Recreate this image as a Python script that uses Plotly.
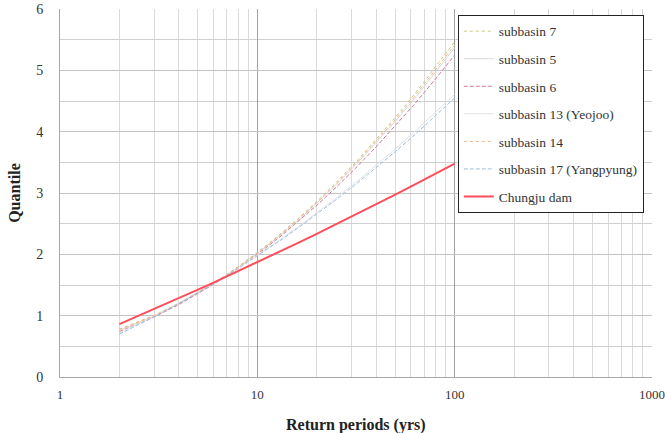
import plotly.graph_objects as go

return_periods = [2, 3, 4, 5, 6, 8, 10, 13, 16, 20, 25, 32, 40, 50, 63, 80, 100]

sub7 = [0.780, 1.005, 1.202, 1.376, 1.530, 1.800, 2.030, 2.324, 2.574, 2.860, 3.166, 3.524, 3.868, 4.230, 4.622, 5.050, 5.469]
sub5 = [0.762, 0.993, 1.193, 1.367, 1.521, 1.789, 2.016, 2.306, 2.552, 2.833, 3.131, 3.481, 3.816, 4.168, 4.549, 4.964, 5.370]
sub6 = [0.740, 0.979, 1.181, 1.355, 1.510, 1.776, 2.000, 2.284, 2.525, 2.799, 3.089, 3.428, 3.753, 4.092, 4.460, 4.860, 5.250]
sub13 = [0.720, 0.995, 1.207, 1.382, 1.532, 1.781, 1.985, 2.236, 2.442, 2.674, 2.915, 3.191, 3.450, 3.719, 4.004, 4.310, 4.610]
sub14 = [0.770, 0.999, 1.197, 1.371, 1.525, 1.794, 2.022, 2.314, 2.562, 2.845, 3.147, 3.500, 3.839, 4.196, 4.582, 5.002, 5.414]
sub17 = [0.700, 0.980, 1.195, 1.372, 1.522, 1.770, 1.972, 2.221, 2.424, 2.652, 2.888, 3.159, 3.413, 3.675, 3.954, 4.254, 4.550]
chungju = [0.861, 1.106, 1.283, 1.424, 1.539, 1.724, 1.870, 2.044, 2.183, 2.334, 2.488, 2.659, 2.816, 2.975, 3.141, 3.315, 3.480]

x_tick_vals = [1, 10, 100, 1000]
x_tick_text = ["1", "10", "100", "1000"]

series = [
    ("subbasin 7", sub7, "#c9c77e", "dot", 1),
    ("subbasin 5", sub5, "#d9d9d9", "solid", 1),
    ("subbasin 6", sub6, "#d07a95", "4px,2px", 1),
    ("subbasin 13 (Yeojoo)", sub13, "#e2e2e2", "solid", 1),
    ("subbasin 14", sub14, "#f0b585", "dot", 1),
    ("subbasin 17 (Yangpyung)", sub17, "#9cc0dc", "4px,2px", 1),
    ("Chungju dam", chungju, "#ff4d5a", "solid", 2),
]

fig = go.Figure()
for i, (name, vals, color, dash, width) in enumerate(series):
    fig.add_trace(go.Scatter(
        x=return_periods, y=vals, mode="lines", name=name,
        legendgroup=f"g{i}",
        line=dict(color=color, dash=dash, width=width),
    ))

font_family = "'Liberation Serif', 'Times New Roman', serif"

fig.update_layout(
    width=665, height=433,
    margin=dict(l=60, r=13, t=9, b=56),
    paper_bgcolor="white", plot_bgcolor="white",
    font=dict(family=font_family, size=12, color="#333333"),
    showlegend=True,
    legend=dict(
        x=0.672, y=0.984, xanchor="left", yanchor="top",
        bgcolor="white", bordercolor="#222222", borderwidth=1,
        font=dict(family=font_family, size=13.5, color="#333333"),
        traceorder="grouped", tracegroupgap=7,
        itemwidth=30,
    ),
    xaxis=dict(
        type="log", range=[0, 3], automargin=False,
        tickvals=x_tick_vals, ticktext=x_tick_text,
        showgrid=True, gridcolor="#a0a0a0", gridwidth=1,
        minor=dict(dtick="D1", showgrid=True, gridcolor="#dadada", gridwidth=1, ticks=""),
        showline=True, linecolor="#a6a6a6", linewidth=1,
        zeroline=False, ticks="", ticklen=0, ticklabelstandoff=5,
        tickfont=dict(family=font_family, size=13, color="#333333"),
    ),
    yaxis=dict(
        range=[0, 6], dtick=1, tick0=0, automargin=False,
        showgrid=True, gridcolor="#c4c4c4", gridwidth=1,
        minor=dict(dtick=0.5, showgrid=True, gridcolor="#d0d0d0", gridwidth=1, ticks=""),
        showline=True, linecolor="#a6a6a6", linewidth=1,
        zeroline=False, ticks="", ticklabelstandoff=13,
        tickfont=dict(family=font_family, size=14, color="#333333"),
    ),
    annotations=[
        dict(text="<b>Return periods (yrs)</b>", xref="paper", yref="paper",
             x=0.5, y=-0.1, xanchor="center", yanchor="top", showarrow=False,
             font=dict(family=font_family, size=16, color="#222222")),
        dict(text="<b>Quantile</b>", xref="paper", yref="paper",
             x=-0.078, y=0.5, xanchor="center", yanchor="middle", showarrow=False,
             textangle=-90,
             font=dict(family=font_family, size=16, color="#222222")),
    ],
)

fig.write_html("out.html")
